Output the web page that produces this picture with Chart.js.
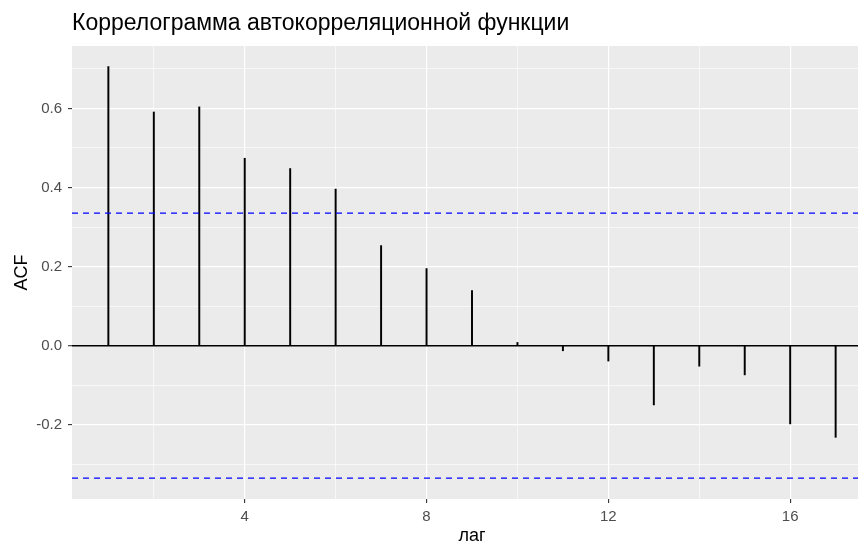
<!DOCTYPE html>
<html>
<head>
<meta charset="utf-8">
<script src="https://cdn.jsdelivr.net/npm/chart.js@4"></script>
<style>
  html, body { margin: 0; padding: 0; background: #fff; overflow: hidden; width: 858px; height: 545px; }
  #wrap { position: relative; width: 880px; height: 545px; }
  #title { position: absolute; left: 72px; top: 9px; font: 23px "Liberation Sans", Arial, sans-serif; color: #000; white-space: nowrap; }
</style>
</head>
<body>
<div id="wrap">
  <canvas id="acfChart" width="880" height="545"></canvas>
  <div id="title">Коррелограмма автокорреляционной функции</div>
</div>
<script>
// ACF по лагам
const lags = [1, 2, 3, 4, 5, 6, 7, 8, 9, 10, 11, 12, 13, 14, 15, 16, 17];
const acf = [0.706, 0.591, 0.604, 0.474, 0.448, 0.396, 0.253, 0.195, 0.139,
             0.008, -0.013, -0.039, -0.150, -0.052, -0.074, -0.198, -0.232];
const ciLevel = 0.335;

// сетка / подписи осей
const xMajor = [4, 8, 12, 16];
const xMinor = [2, 6, 10, 14];
const yMajor = [-0.2, 0, 0.2, 0.4, 0.6];
const yMinor = [-0.3, -0.1, 0.1, 0.3, 0.5, 0.7];
const xRange = [0.2, 17.8];
const yRange = [-0.388, 0.758];

const FONT = '"Liberation Sans", Arial, sans-serif';
const isMajor = (list, v) => list.some(m => Math.abs(m - v) < 1e-9);
const tv = (c) => (c.tick ? c.tick.value : NaN);

// серый фон панели как в ggplot
const panelBg = {
  id: 'panelBg',
  beforeDraw(chart) {
    const { ctx, chartArea: a } = chart;
    ctx.save();
    ctx.fillStyle = '#EBEBEB';
    ctx.fillRect(a.left, a.top, a.right - a.left, a.bottom - a.top);
    ctx.restore();
  }
};

const ciLine = (y) => ({
  type: 'line',
  data: [{ x: xRange[0], y }, { x: xRange[1], y }],
  borderColor: '#0000FF',
  borderWidth: 1.3,
  borderDash: [6, 5],
  pointRadius: 0,
  order: 0
});

new Chart(document.getElementById('acfChart'), {
  type: 'bar',
  data: {
    datasets: [
      {
        type: 'bar',
        data: lags.map((l, i) => ({ x: l, y: acf[i] })),
        backgroundColor: '#000',
        borderWidth: 0,
        barThickness: 1.3,
        order: 1
      },
      ciLine(ciLevel),
      ciLine(-ciLevel)
    ]
  },
  options: {
    responsive: false,
    animation: false,
    layout: { padding: { top: 46, right: 8, left: 0, bottom: 0 } },
    plugins: { legend: { display: false }, tooltip: { enabled: false } },
    scales: {
      x: {
        type: 'linear',
        offset: false,
        min: xRange[0], max: xRange[1],
        afterBuildTicks: (s) => { s.ticks = [...xMinor, ...xMajor].sort((a, b) => a - b).map(v => ({ value: v })); },
        afterFit: (s) => { s.height = 46; },
        border: { display: false },
        grid: {
          offset: false,
          color: '#fff',
          lineWidth: (c) => isMajor(xMajor, tv(c)) ? 1.2 : 0.6,
          tickColor: (c) => isMajor(xMajor, tv(c)) ? '#333' : 'rgba(0,0,0,0)',
          tickWidth: 1.1,
          tickLength: 4
        },
        ticks: {
          autoSkip: false, maxRotation: 0, padding: 5,
          color: '#4D4D4D', font: { family: FONT, size: 15 },
          callback: (v) => isMajor(xMajor, v) ? String(v) : ''
        },
        title: { display: true, text: 'лаг', color: '#000', font: { family: FONT, size: 18 }, padding: { top: 0, bottom: -2 } }
      },
      y: {
        min: yRange[0], max: yRange[1],
        afterBuildTicks: (s) => { s.ticks = [...yMinor, ...yMajor].sort((a, b) => a - b).map(v => ({ value: v })); },
        afterFit: (s) => { s.width = 72; },
        border: { display: false },
        grid: {
          color: (c) => Math.abs(tv(c)) < 1e-9 ? '#000' : '#fff',
          lineWidth: (c) => Math.abs(tv(c)) < 1e-9 ? 1.4 : (isMajor(yMajor, tv(c)) ? 1.2 : 0.6),
          tickColor: (c) => isMajor(yMajor, tv(c)) ? '#333' : 'rgba(0,0,0,0)',
          tickWidth: 1.1,
          tickLength: 4
        },
        ticks: {
          autoSkip: false, padding: 6,
          color: '#4D4D4D', font: { family: FONT, size: 15 },
          callback: (v) => isMajor(yMajor, v) ? Number(v).toFixed(1) : ''
        },
        title: { display: true, text: 'ACF', color: '#000', font: { family: FONT, size: 18 }, padding: { top: 11, bottom: 0 } }
      }
    }
  },
  plugins: [panelBg]
});
</script>
</body>
</html>
